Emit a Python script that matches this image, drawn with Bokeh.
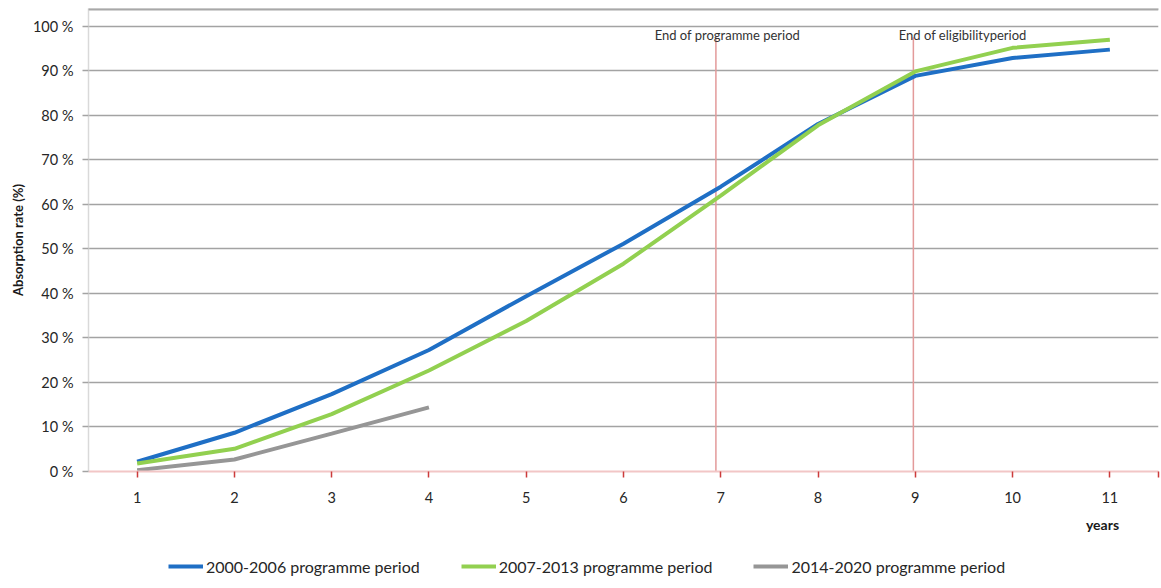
from bokeh.plotting import figure
from bokeh.layouts import column
from bokeh.models import Range1d, FixedTicker, Span, BoxAnnotation, Legend, LegendItem, ColumnDataSource
from bokeh.core.properties import value
from bokeh.embed import file_html
from bokeh.resources import INLINE

# ---- data ----
years = [1, 2, 3, 4, 5, 6, 7, 8, 9, 10, 11]
rate_2000_2006 = [2.2, 8.7, 17.4, 27.3, 39.4, 51.2, 64.0, 78.1, 88.9, 92.9, 94.8]
rate_2007_2013 = [1.8, 5.1, 12.9, 22.7, 33.8, 46.7, 62.0, 77.8, 89.9, 95.2, 97.0]
years_2014 = [1, 2, 3, 4]
rate_2014_2020 = [0.3, 2.7, 8.5, 14.4]
series_labels = ["2000-2006 programme period", "2007-2013 programme period", "2014-2020 programme period"]
series_colors = ["#1f6fc5", "#92d050", "#969696"]
y_ticks = [0, 10, 20, 30, 40, 50, 60, 70, 80, 90, 100]
event_x = [6.95, 8.98]
event_top = [97.6, 97.6]
event_label_x = [6.32, 8.83]
event_label_y = [98.0, 98.0]
event_labels = ["End of programme period", "End of eligibilityperiod"]
x_title = "years"

FONT = "Lato"

p = figure(width=1161, height=511, output_backend="svg", toolbar_location=None,
           x_range=Range1d(0.5, 11.5), y_range=Range1d(0, 104.04),
           min_border_left=88, min_border_right=3, min_border_top=8, min_border_bottom=40)
p.outline_line_color = None
p.background_fill_color = "white"
p.border_fill_color = "white"

# grid
p.xgrid.visible = False
p.ygrid.ticker = FixedTicker(ticks=y_ticks[1:])
p.ygrid.grid_line_color = "#a3a3a3"
p.ygrid.grid_line_width = 1.5

# y axis
p.yaxis.ticker = FixedTicker(ticks=y_ticks)
p.yaxis.major_label_overrides = {t: f"{t} %" for t in y_ticks}
p.yaxis.axis_line_color = "#d9d9d9"
p.yaxis.axis_line_width = 1.5
p.yaxis.major_tick_line_color = "#a3a3a3"
p.yaxis.major_tick_line_width = 1.5
p.yaxis.major_tick_out = 6
p.yaxis.major_tick_in = 0
p.yaxis.minor_tick_line_color = None
p.yaxis.major_label_standoff = 9
p.yaxis.major_label_text_font = FONT
p.yaxis.major_label_text_font_size = "14.5px"
p.yaxis.major_label_text_color = "#262626"
p.yaxis.axis_label = "Absorption rate (%)"
p.yaxis.axis_label_text_font = FONT
p.yaxis.axis_label_text_font_size = "13px"
p.yaxis.axis_label_text_font_style = "bold"
p.yaxis.axis_label_text_color = "#1a1a1a"
p.yaxis.axis_label_standoff = 4

# x axis
p.xaxis.ticker = FixedTicker(ticks=years + [11.5])
p.xaxis.major_label_overrides = {11.5: ""}
p.xaxis.axis_line_color = "#f2c6c6"
p.xaxis.axis_line_width = 2
p.xaxis.major_tick_line_color = "#cc3b3b"
p.xaxis.major_tick_line_width = 1.5
p.xaxis.major_tick_out = 6
p.xaxis.major_tick_in = 0
p.xaxis.minor_tick_line_color = None
p.xaxis.major_label_standoff = 14
p.xaxis.major_label_text_font = FONT
p.xaxis.major_label_text_font_size = "14.5px"
p.xaxis.major_label_text_color = "#262626"

# top border line across the whole chart width
p.add_layout(Span(location=103.8, dimension="width", line_color="#a8a8a8", line_width=2))
p.add_layout(BoxAnnotation(left=0, right=1161, top=7, bottom=9,
                           left_units="canvas", right_units="canvas",
                           top_units="canvas", bottom_units="canvas",
                           fill_color="#a8a8a8", fill_alpha=1, line_color=None, level="overlay"))

# event lines
ev = ColumnDataSource(dict(x=event_x, top=event_top, lx=event_label_x, ly=event_label_y, txt=event_labels))
p.segment(x0="x", y0=0, x1="x", y1="top", source=ev, line_color="#e39a9a", line_width=1.5)
p.text(x="lx", y="ly", text="txt", source=ev, text_font=value(FONT), text_font_size="13px",
       text_color="#333333", text_baseline="middle", text_align="left")

# series
r1 = p.line(years, rate_2000_2006, line_color=series_colors[0], line_width=4)
r2 = p.line(years, rate_2007_2013, line_color=series_colors[1], line_width=4)
r3 = p.line(years_2014, rate_2014_2020, line_color=series_colors[2], line_width=4)

# ---- bottom strip: "years" title and legend ----
q = figure(width=1161, height=74, output_backend="svg", toolbar_location=None,
           x_range=Range1d(88, 1158), y_range=Range1d(0, 74),
           x_axis_location=None, y_axis_location=None,
           min_border_left=88, min_border_right=3, min_border_top=0, min_border_bottom=0)
q.outline_line_color = None
q.grid.visible = False
q.text(x=[1102], y=[61], text=[x_title], text_font=value(FONT), text_font_size="14px",
       text_font_style="bold", text_color="#1a1a1a", text_align="center", text_baseline="middle")
# off-screen proxy renderers that only provide the legend swatches
proxy = ColumnDataSource(dict(x=[-100, -90], y=[-100, -100]))
l1 = q.line("x", "y", source=proxy, line_color=series_colors[0], line_width=4)
l2 = q.line("x", "y", source=proxy, line_color=series_colors[1], line_width=4)
l3 = q.line("x", "y", source=proxy, line_color=series_colors[2], line_width=4)
legend = Legend(items=[LegendItem(label=series_labels[0], renderers=[l1]),
                       LegendItem(label=series_labels[1], renderers=[l2]),
                       LegendItem(label=series_labels[2], renderers=[l3])],
                orientation="horizontal", location=(80, 9), glyph_width=35, glyph_height=20,
                label_standoff=3, spacing=41, padding=0, margin=0, border_line_color=None,
                background_fill_alpha=0, label_text_font=FONT, label_text_font_size="16px",
                label_text_color="#262626")
q.add_layout(legend, "center")

layout = column(p, q, spacing=0)
open("out.html", "w").write(file_html(layout, INLINE))
